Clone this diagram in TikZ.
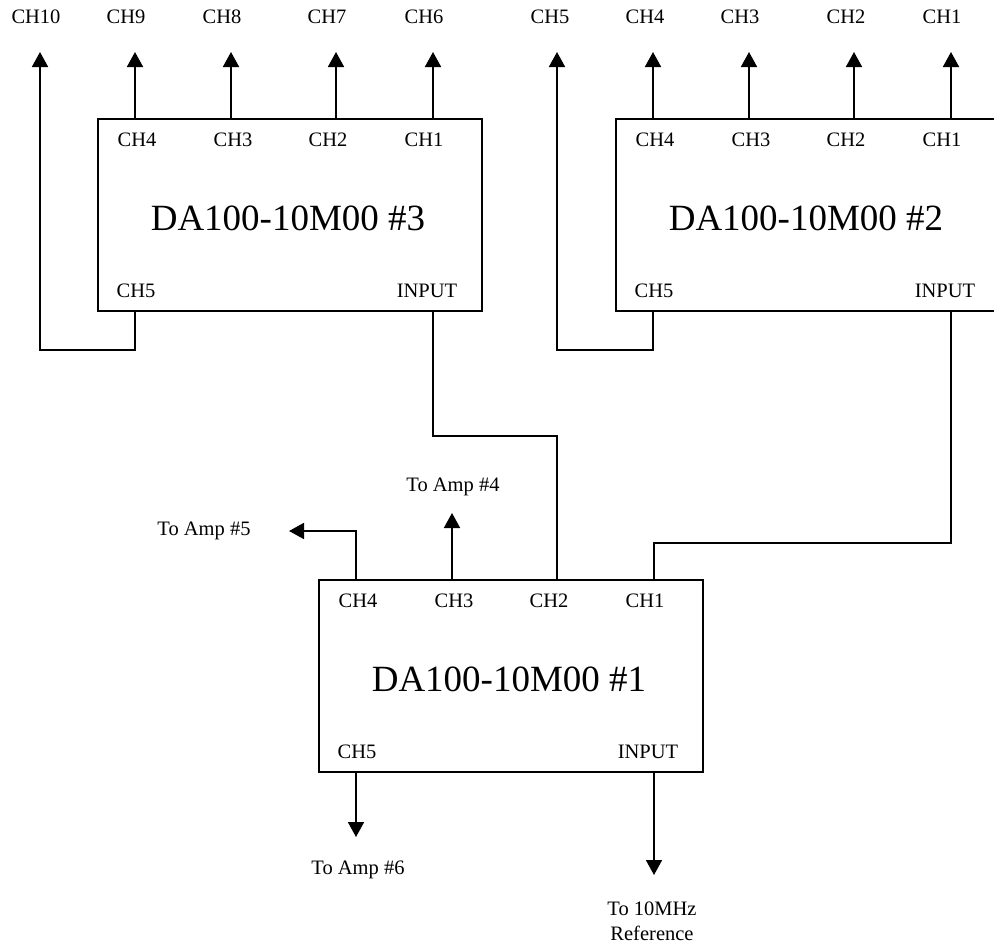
\documentclass[tikz,border=0pt]{standalone}
\usepackage{fontspec}
\setmainfont{Liberation Serif}
\usetikzlibrary{arrows.meta}
\begin{document}
\begin{tikzpicture}[x=1pt,y=-1pt,
  box/.style={draw, line width=1.8pt, minimum width=384pt, minimum height=192pt, inner sep=0pt, anchor=north west},
  lbl/.style={font=\fontsize{20.5}{25}\selectfont, inner sep=0pt},
  ttl/.style={font=\fontsize{37}{44}\selectfont, inner sep=0pt},
  arr/.style={line width=1.8pt, -{Triangle[width=16pt,length=15pt]}},
  wire/.style={line width=1.5pt}]
\useasboundingbox (0,0) rectangle (994,945);

% boxes
\node[box] (B3) at (97,118) {};
\node[box] (B2) at (615,118) {};
\node[box] (B1) at (318,579) {};

\foreach \b/\n in {B1/1,B2/2,B3/3}{
  \path (\b.north west) ++(38,0) coordinate (\b c4)
        (\b.north west) ++(134,0) coordinate (\b c3)
        (\b.north west) ++(239,0) coordinate (\b c2)
        (\b.north west) ++(336,0) coordinate (\b c1)
        (\b.south west) ++(38,0) coordinate (\b c5)
        (\b.south west) ++(336,0) coordinate (\b in);
  \node[lbl] (\b l4) at ([shift={(40,22)}]\b.north west) {CH4};
  \node[lbl] (\b l3) at ([shift={(136,22)}]\b.north west) {CH3};
  \node[lbl] (\b l2) at ([shift={(231,22)}]\b.north west) {CH2};
  \node[lbl] (\b l1) at ([shift={(327,22)}]\b.north west) {CH1};
  \node[lbl] (\b l5) at ([shift={(39,-21)}]\b.south west) {CH5};
  \node[lbl] (\b li) at ([shift={(330,-21)}]\b.south west) {INPUT};
  \node[ttl] (\b t) at ([shift={(191,100)}]\b.north west) {DA100-10M00 \#\n};
}

% top labels
\foreach \x/\t in {36/CH10,126/CH9,222/CH8,327/CH7,424/CH6,550/CH5,645/CH4,740/CH3,846/CH2,942/CH1}{
  \node[lbl] (top\t) at (\x,17) {\t};
}

\coordinate (Ttop) at (0,52);
\coordinate (T10) at (40,52);
\coordinate (T5) at (557,52);

% top arrows
\foreach \p in {B3c4,B3c3,B3c2,B3c1,B2c4,B2c3,B2c2,B2c1}{
  \draw[arr] (\p) -- (\p |- Ttop);
}
\draw[arr] (B3c5) -- ++(0,38) -| (T10);
\draw[arr] (B2c5) -- ++(0,38) -| (T5);

% wires to box 1
\draw[wire] (B3in) -- ++(0,124) -| (B1c2);
\draw[wire] (B2in) -- ++(0,231) -| (B1c1);

% box 1 outputs
\coordinate (A5) at (289,531);
\coordinate (A4) at (452,513);
\coordinate (A6) at (356,837);
\coordinate (A10) at (654,875);
\draw[arr] (B1c4) -- (B1c4 |- A5) -- (A5);
\draw[arr] (B1c3) -- (B1c3 |- A4);
\draw[arr] (B1c5) -- (B1c5 |- A6);
\draw[arr] (B1in) -- (B1in |- A10);

\node[lbl] (amp5) at (204,531) {To Amp \#5};
\node[lbl] (amp4) at (453,487) {To Amp \#4};
\node[lbl] (amp6) at (358,870) {To Amp \#6};
\node[lbl, align=center] (ref) at (652,921) {To 10MHz\\Reference};
\end{tikzpicture}
\end{document}
